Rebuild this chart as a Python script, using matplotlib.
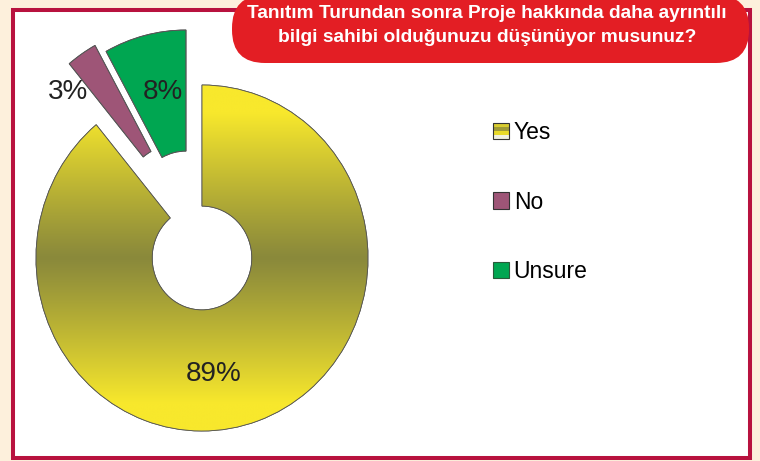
import numpy as np
import matplotlib
matplotlib.use("Agg")
import matplotlib.pyplot as plt
from matplotlib.patches import Rectangle, FancyBboxPatch, Patch
from matplotlib.legend_handler import HandlerBase

# ---- data ----
categories = ["Yes", "No", "Unsure"]
values = [89, 3, 8]
title_lines = ["Tanıtım Turundan sonra Proje hakkında daha ayrıntılı",
               "bilgi sahibi olduğunuzu düşünüyor musunuz?"]

# ---- style ----
W, H = 760, 461
BG = "#fdf0dc"
BORDER = "#b8123e"
RED = "#e31e24"
YELLOW = np.array([0xf8, 0xe8, 0x2c]) / 255
OLIVE = np.array([0x8a, 0x89, 0x3b]) / 255
colors = ["#c8bd34", "#9e5577", "#00a651"]
explode = [0.0, 0.37, 0.34]
# fine offsets (px) of the exploded slices, screen direction
slice_offsets = [None, (-27, -61), (-16, -55)]
FONT = "Liberation Sans"

fig = plt.figure(figsize=(W / 100, H / 100), dpi=100)
fig.patch.set_facecolor(BG)

# background axes in pixel coordinates
bg = fig.add_axes([0, 0, 1, 1], zorder=0)
bg.set_xlim(0, W)
bg.set_ylim(H, 0)
bg.axis("off")
bg.add_patch(Rectangle((13, 10), 737, 448, facecolor="white",
                       edgecolor=BORDER, linewidth=2.9))
bg.add_patch(FancyBboxPatch((232, -5), 517, 68,
                            boxstyle="round,pad=0,rounding_size=33",
                            facecolor=RED, edgecolor="none"))
bg.text(487, 14, title_lines[0], ha="center", va="center", color="white",
        fontsize=13.8, fontweight="bold", family=FONT)
bg.text(487, 38, title_lines[1], ha="center", va="center", color="white",
        fontsize=13.8, fontweight="bold", family=FONT)

# pie axes: center at pixel (202, 258), radius 166 px (x), 173 px (y)
cx, cy, rx, ry = 202, 258, 166, 173


def set_limits(a):
    a.set_aspect("auto")
    a.set_xlim((0 - cx) / rx, (W - cx) / rx)
    a.set_ylim((cy - H) / ry, cy / ry)


def adjust_centers(ws):
    for w, off in zip(ws, slice_offsets):
        if off is not None:
            w.set_center((off[0] / rx, -off[1] / ry))


ax = fig.add_axes([0, 0, 1, 1], zorder=1)
ax.patch.set_alpha(0)
wedges, _ = ax.pie(values, startangle=90, counterclock=False,
                   explode=explode, colors=colors, radius=1.0,
                   wedgeprops=dict(width=0.70, edgecolor="#555555",
                                   linewidth=0.6))
adjust_centers(wedges)
set_limits(ax)
ax.axis("off")

# vertical gradient for the Yes slice
yy = np.linspace(-1, 1, 400)
t = np.clip(np.abs(yy) / 0.8, 0, 1) ** 1.1
grad = OLIVE[None, :] * (1 - t[:, None]) + YELLOW[None, :] * t[:, None]
img = np.repeat(grad[:, None, :], 2, axis=1)
im = ax.imshow(img, extent=(-1.05, 1.05, -1.05, 1.05), origin="lower",
               aspect="auto", zorder=wedges[0].get_zorder() + 0.1,
               interpolation="bilinear")
im.set_clip_path(wedges[0])
# outline on top
outl, _ = ax.pie(values, startangle=90, counterclock=False, explode=explode,
                 colors=["none"] * 3, radius=1.0,
                 wedgeprops=dict(width=0.70, edgecolor="#555555",
                                 linewidth=0.6, zorder=5))
adjust_centers(outl)
set_limits(ax)

# percentage labels (pixel positions converted to data units)
label_px = [(214, 374), (68, 92), (163, 92)]
for v, (px, py) in zip(values, label_px):
    ax.text((px - cx) / rx, (cy - py) / ry, f"{v}%", ha="center",
            va="center", fontsize=20, color="#222222", family=FONT,
            zorder=6)


# legend
class StripeHandler(HandlerBase):
    def create_artists(self, legend, orig_handle, xdescent, ydescent,
                       width, height, fontsize, trans):
        bands = ["#f0f0e0", "#e8da2a", "#9e9a36", "#d8cc2e"]
        arts = []
        n = len(bands)
        for i, c in enumerate(bands):
            arts.append(Rectangle((-xdescent, -ydescent + i * height / n),
                                  width, height / n, facecolor=c,
                                  edgecolor="none", transform=trans))
        arts.append(Rectangle((-xdescent, -ydescent), width, height,
                              facecolor="none", edgecolor="#333333",
                              linewidth=0.8, transform=trans))
        return arts


handles = [Patch(facecolor="#c8bd34", edgecolor="#333333", linewidth=0.8),
           Patch(facecolor="#9e5577", edgecolor="#333333", linewidth=0.8),
           Patch(facecolor="#00a651", edgecolor="#2a5a3a", linewidth=0.8)]
leg = fig.legend(handles, categories, loc="upper left",
                 bbox_to_anchor=(493 / W, 1 - 121 / H), frameon=False,
                 prop=dict(family=FONT, size=16.5), handlelength=0.7,
                 handleheight=0.7, handletextpad=0.2, labelspacing=2.03,
                 borderpad=0, borderaxespad=0,
                 handler_map={handles[0]: StripeHandler()})

fig.savefig("out.png", dpi=100, facecolor=BG)
